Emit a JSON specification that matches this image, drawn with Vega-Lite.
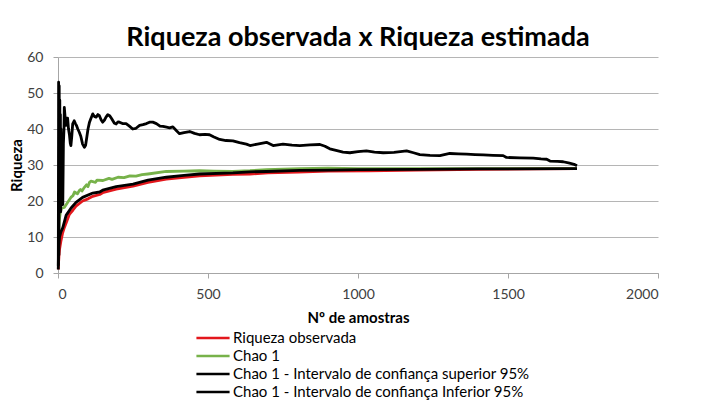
{
  "$schema": "https://vega.github.io/schema/vega-lite/v6.json",
  "width": 600,
  "height": 216,
  "autosize": {"type": "none"},
  "padding": {"left": 58, "top": 57, "right": 43, "bottom": 128},
  "background": "white",
  "title": {"text": "Riqueza observada x Riqueza estimada", "fontSize": 27, "font": "Lato", "fontWeight": "bold", "color": "#000000", "offset": -2, "anchor": "middle"},
  "config": {
    "font": "Lato",
    "view": {"stroke": null},
    "axis": {"labelFont": "Lato", "titleFont": "Lato", "labelFontSize": 14, "titleFontSize": 15, "labelColor": "#404040", "titleColor": "#000000", "titleFontWeight": "bold", "domainColor": "#a6a6a6", "tickColor": "#a6a6a6", "gridColor": "#b5b5b5", "tickSize": 5}
  },
  "datasets": {
    "obs": [
      {"amostras": 1, "riqueza": 1}, {"amostras": 2, "riqueza": 3}, {"amostras": 3, "riqueza": 4.5}, {"amostras": 5, "riqueza": 6.5}, {"amostras": 10, "riqueza": 9}, {"amostras": 15, "riqueza": 11}, {"amostras": 21, "riqueza": 12.6}, {"amostras": 30, "riqueza": 14.5}, {"amostras": 38, "riqueza": 16.3}, {"amostras": 50, "riqueza": 17.5}, {"amostras": 60, "riqueza": 18.6}, {"amostras": 82, "riqueza": 20}, {"amostras": 100, "riqueza": 20.6}, {"amostras": 116, "riqueza": 21.3}, {"amostras": 139, "riqueza": 21.8}, {"amostras": 149, "riqueza": 22.3}, {"amostras": 194, "riqueza": 23.3}, {"amostras": 250, "riqueza": 24.1}, {"amostras": 300, "riqueza": 25.2}, {"amostras": 361, "riqueza": 26.1}, {"amostras": 420, "riqueza": 26.6}, {"amostras": 472, "riqueza": 27}, {"amostras": 583, "riqueza": 27.4}, {"amostras": 640, "riqueza": 27.5}, {"amostras": 700, "riqueza": 27.8}, {"amostras": 800, "riqueza": 28}, {"amostras": 900, "riqueza": 28.3}, {"amostras": 1035, "riqueza": 28.4}, {"amostras": 1200, "riqueza": 28.6}, {"amostras": 1400, "riqueza": 28.8}, {"amostras": 1600, "riqueza": 28.9}, {"amostras": 1730, "riqueza": 29}
    ],
    "chao": [
      {"amostras": 2, "riqueza": 10}, {"amostras": 4, "riqueza": 14.5}, {"amostras": 8, "riqueza": 17}, {"amostras": 12, "riqueza": 18}, {"amostras": 21, "riqueza": 18.2}, {"amostras": 32, "riqueza": 19.6}, {"amostras": 43, "riqueza": 21}, {"amostras": 50, "riqueza": 21.5}, {"amostras": 55, "riqueza": 22.5}, {"amostras": 65, "riqueza": 22}, {"amostras": 71, "riqueza": 22.9}, {"amostras": 75, "riqueza": 23.2}, {"amostras": 80, "riqueza": 22.8}, {"amostras": 88, "riqueza": 23.8}, {"amostras": 95, "riqueza": 24.5}, {"amostras": 100, "riqueza": 24}, {"amostras": 105, "riqueza": 25.2}, {"amostras": 110, "riqueza": 25.5}, {"amostras": 125, "riqueza": 25.2}, {"amostras": 130, "riqueza": 25.8}, {"amostras": 150, "riqueza": 25.7}, {"amostras": 170, "riqueza": 26.3}, {"amostras": 180, "riqueza": 26}, {"amostras": 200, "riqueza": 26.6}, {"amostras": 220, "riqueza": 26.5}, {"amostras": 240, "riqueza": 27}, {"amostras": 260, "riqueza": 26.9}, {"amostras": 280, "riqueza": 27.3}, {"amostras": 300, "riqueza": 27.5}, {"amostras": 361, "riqueza": 28.2}, {"amostras": 420, "riqueza": 28.3}, {"amostras": 472, "riqueza": 28.4}, {"amostras": 520, "riqueza": 28.3}, {"amostras": 583, "riqueza": 28.2}, {"amostras": 640, "riqueza": 28.4}, {"amostras": 695, "riqueza": 28.7}, {"amostras": 806, "riqueza": 29}, {"amostras": 900, "riqueza": 29.1}, {"amostras": 1000, "riqueza": 29}, {"amostras": 1200, "riqueza": 29}, {"amostras": 1418, "riqueza": 29}, {"amostras": 1730, "riqueza": 29}
    ],
    "sup": [
      {"amostras": 1, "riqueza": 1}, {"amostras": 2, "riqueza": 53}, {"amostras": 3, "riqueza": 5}, {"amostras": 4, "riqueza": 52}, {"amostras": 5, "riqueza": 18}, {"amostras": 6, "riqueza": 48}, {"amostras": 7, "riqueza": 20}, {"amostras": 8, "riqueza": 44}, {"amostras": 9, "riqueza": 17}, {"amostras": 10, "riqueza": 40}, {"amostras": 12, "riqueza": 22}, {"amostras": 14, "riqueza": 38}, {"amostras": 16, "riqueza": 19}, {"amostras": 18, "riqueza": 36}, {"amostras": 20, "riqueza": 40}, {"amostras": 21, "riqueza": 46}, {"amostras": 24, "riqueza": 43}, {"amostras": 27, "riqueza": 41}, {"amostras": 30, "riqueza": 43}, {"amostras": 32, "riqueza": 43}, {"amostras": 35, "riqueza": 40}, {"amostras": 38, "riqueza": 38.5}, {"amostras": 41, "riqueza": 36}, {"amostras": 43, "riqueza": 35.4}, {"amostras": 46, "riqueza": 38}, {"amostras": 49, "riqueza": 41.4}, {"amostras": 54, "riqueza": 42.3}, {"amostras": 58, "riqueza": 41.5}, {"amostras": 62, "riqueza": 40.9}, {"amostras": 66, "riqueza": 40}, {"amostras": 71, "riqueza": 39.1}, {"amostras": 76, "riqueza": 38}, {"amostras": 82, "riqueza": 35.8}, {"amostras": 88, "riqueza": 34.9}, {"amostras": 92, "riqueza": 35.5}, {"amostras": 96, "riqueza": 37.7}, {"amostras": 100, "riqueza": 40}, {"amostras": 105, "riqueza": 41.9}, {"amostras": 110, "riqueza": 43}, {"amostras": 116, "riqueza": 44.2}, {"amostras": 121, "riqueza": 43.5}, {"amostras": 127, "riqueza": 43.3}, {"amostras": 133, "riqueza": 44}, {"amostras": 138, "riqueza": 43.7}, {"amostras": 144, "riqueza": 42.5}, {"amostras": 149, "riqueza": 41.9}, {"amostras": 155, "riqueza": 42.5}, {"amostras": 160, "riqueza": 43.3}, {"amostras": 166, "riqueza": 44}, {"amostras": 172, "riqueza": 43.7}, {"amostras": 178, "riqueza": 43}, {"amostras": 183, "riqueza": 42.3}, {"amostras": 188, "riqueza": 41.6}, {"amostras": 194, "riqueza": 41.4}, {"amostras": 200, "riqueza": 42}, {"amostras": 205, "riqueza": 41.9}, {"amostras": 215, "riqueza": 41.5}, {"amostras": 227, "riqueza": 41.5}, {"amostras": 238, "riqueza": 40.8}, {"amostras": 249, "riqueza": 40}, {"amostras": 260, "riqueza": 40.2}, {"amostras": 272, "riqueza": 41}, {"amostras": 283, "riqueza": 41.2}, {"amostras": 295, "riqueza": 41.5}, {"amostras": 305, "riqueza": 41.9}, {"amostras": 316, "riqueza": 41.9}, {"amostras": 328, "riqueza": 41.5}, {"amostras": 340, "riqueza": 40.8}, {"amostras": 350, "riqueza": 40.7}, {"amostras": 362, "riqueza": 40.5}, {"amostras": 372, "riqueza": 40.3}, {"amostras": 383, "riqueza": 40.6}, {"amostras": 395, "riqueza": 39.5}, {"amostras": 405, "riqueza": 38.7}, {"amostras": 420, "riqueza": 39}, {"amostras": 439, "riqueza": 39.3}, {"amostras": 455, "riqueza": 38.8}, {"amostras": 472, "riqueza": 38.4}, {"amostras": 490, "riqueza": 38.5}, {"amostras": 505, "riqueza": 38.4}, {"amostras": 520, "riqueza": 37.8}, {"amostras": 539, "riqueza": 37.1}, {"amostras": 560, "riqueza": 36.8}, {"amostras": 583, "riqueza": 36.7}, {"amostras": 605, "riqueza": 36.2}, {"amostras": 628, "riqueza": 35.8}, {"amostras": 640, "riqueza": 35.4}, {"amostras": 665, "riqueza": 35.8}, {"amostras": 695, "riqueza": 36.3}, {"amostras": 717, "riqueza": 35.4}, {"amostras": 750, "riqueza": 35.8}, {"amostras": 780, "riqueza": 35.5}, {"amostras": 806, "riqueza": 35.4}, {"amostras": 840, "riqueza": 35.6}, {"amostras": 873, "riqueza": 35.7}, {"amostras": 890, "riqueza": 35.2}, {"amostras": 906, "riqueza": 34.5}, {"amostras": 930, "riqueza": 34}, {"amostras": 950, "riqueza": 33.6}, {"amostras": 973, "riqueza": 33.4}, {"amostras": 1000, "riqueza": 33.7}, {"amostras": 1028, "riqueza": 33.9}, {"amostras": 1055, "riqueza": 33.6}, {"amostras": 1084, "riqueza": 33.4}, {"amostras": 1120, "riqueza": 33.5}, {"amostras": 1162, "riqueza": 33.9}, {"amostras": 1185, "riqueza": 33.4}, {"amostras": 1206, "riqueza": 32.9}, {"amostras": 1240, "riqueza": 32.7}, {"amostras": 1273, "riqueza": 32.6}, {"amostras": 1306, "riqueza": 33.2}, {"amostras": 1335, "riqueza": 33.1}, {"amostras": 1362, "riqueza": 33}, {"amostras": 1390, "riqueza": 32.9}, {"amostras": 1418, "riqueza": 32.8}, {"amostras": 1450, "riqueza": 32.7}, {"amostras": 1484, "riqueza": 32.6}, {"amostras": 1495, "riqueza": 32.1}, {"amostras": 1540, "riqueza": 32}, {"amostras": 1584, "riqueza": 31.9}, {"amostras": 1610, "riqueza": 31.7}, {"amostras": 1629, "riqueza": 31.6}, {"amostras": 1640, "riqueza": 31.1}, {"amostras": 1665, "riqueza": 31}, {"amostras": 1684, "riqueza": 30.9}, {"amostras": 1705, "riqueza": 30.5}, {"amostras": 1720, "riqueza": 30.2}, {"amostras": 1730, "riqueza": 29.8}
    ],
    "inf": [
      {"amostras": 1, "riqueza": 2}, {"amostras": 2, "riqueza": 7.5}, {"amostras": 5, "riqueza": 10}, {"amostras": 10, "riqueza": 11.5}, {"amostras": 16, "riqueza": 12.6}, {"amostras": 27, "riqueza": 16}, {"amostras": 43, "riqueza": 18}, {"amostras": 60, "riqueza": 19.6}, {"amostras": 82, "riqueza": 21}, {"amostras": 116, "riqueza": 22.2}, {"amostras": 139, "riqueza": 22.5}, {"amostras": 149, "riqueza": 23}, {"amostras": 194, "riqueza": 24}, {"amostras": 250, "riqueza": 24.7}, {"amostras": 300, "riqueza": 25.8}, {"amostras": 361, "riqueza": 26.6}, {"amostras": 420, "riqueza": 27.1}, {"amostras": 472, "riqueza": 27.5}, {"amostras": 583, "riqueza": 27.8}, {"amostras": 640, "riqueza": 28.1}, {"amostras": 695, "riqueza": 28.2}, {"amostras": 806, "riqueza": 28.5}, {"amostras": 900, "riqueza": 28.6}, {"amostras": 1000, "riqueza": 28.7}, {"amostras": 1200, "riqueza": 28.8}, {"amostras": 1400, "riqueza": 28.9}, {"amostras": 1730, "riqueza": 29}
    ]
  },
  "encoding": {
    "x": {"field": "amostras", "type": "quantitative", "scale": {"domain": [0, 2000], "nice": false}, "axis": {"title": "Nº de amostras", "values": [0, 500, 1000, 1500, 2000], "format": "d", "grid": false, "labelPadding": 9, "titlePadding": 9}},
    "y": {"field": "riqueza", "type": "quantitative", "scale": {"domain": [0, 60], "nice": false}, "axis": {"title": "Riqueza", "values": [0, 10, 20, 30, 40, 50, 60], "format": "d", "grid": true, "labelPadding": 10, "titlePadding": 2}}
  },
  "layer": [
    {"data": {"name": "obs"}, "mark": {"type": "line", "strokeWidth": 2.8, "strokeJoin": "round"}, "encoding": {"color": {"datum": "Riqueza observada"}}},
    {"data": {"name": "chao"}, "mark": {"type": "line", "strokeWidth": 2.8, "strokeJoin": "round"}, "encoding": {"color": {"datum": "Chao 1"}}},
    {"data": {"name": "sup"}, "mark": {"type": "line", "strokeWidth": 2.8, "strokeJoin": "round"}, "encoding": {"color": {"datum": "Chao 1 - Intervalo de confiança superior 95%"}}},
    {"data": {"name": "inf"}, "mark": {"type": "line", "strokeWidth": 2.8, "strokeJoin": "round"}, "encoding": {"color": {"datum": "Chao 1 - Intervalo de confiança Inferior 95%", "scale": {"domain": ["Riqueza observada", "Chao 1", "Chao 1 - Intervalo de confiança superior 95%", "Chao 1 - Intervalo de confiança Inferior 95%"], "range": ["#e3171c", "#77b24a", "#000000", "#000000"]}, "legend": {"title": null, "orient": "none", "legendX": 137, "legendY": 272, "symbolType": "stroke", "symbolSize": 1100, "symbolStrokeWidth": 2.5, "clipHeight": 18, "rowPadding": 0, "padding": 0, "labelFont": "Lato", "labelFontSize": 15, "labelColor": "#000000", "labelOffset": 2, "labelLimit": 450}}}}
  ]
}
